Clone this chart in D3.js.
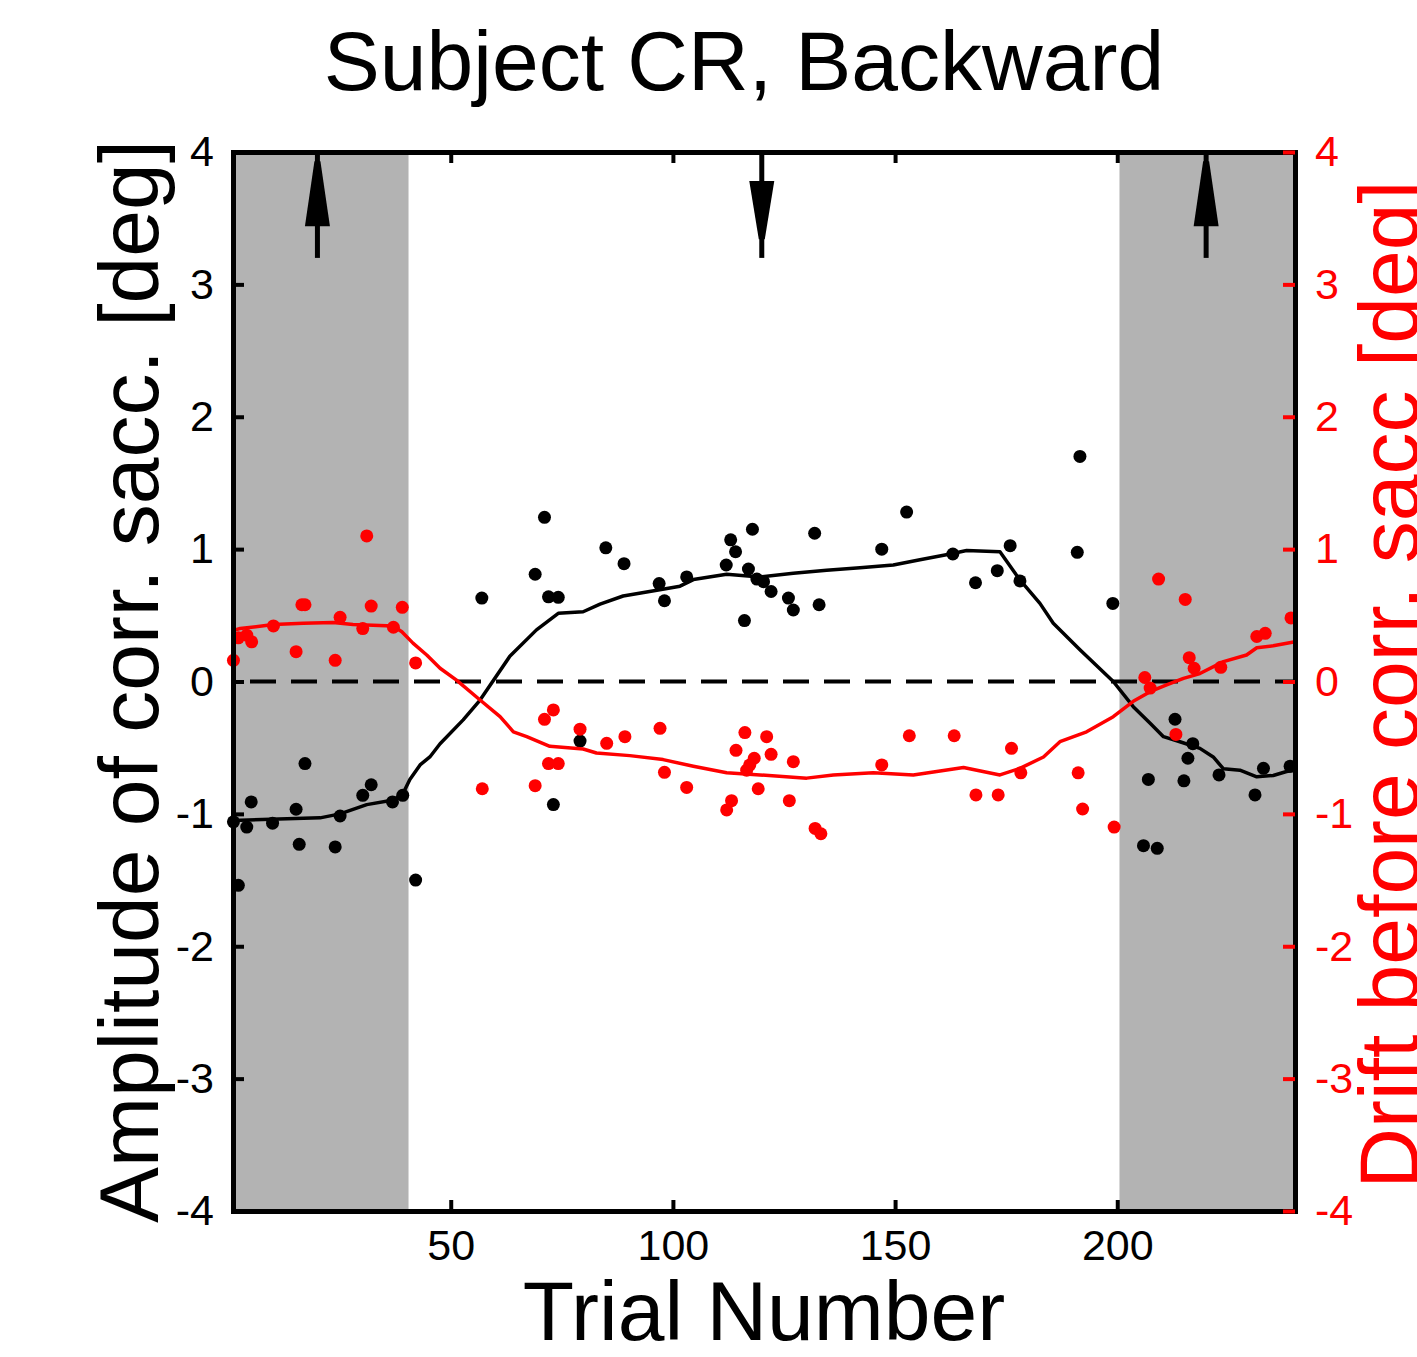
<!DOCTYPE html>
<html>
<head>
<meta charset="utf-8">
<script src="https://cdn.jsdelivr.net/npm/d3@7"></script>
<style>
  body { margin: 0; background: #fff; }
  svg { display: block; font-family: "Liberation Sans", Arial, sans-serif; }
</style>
</head>
<body>
<svg id="chart" width="1417" height="1357"></svg>
<script>
'use strict';

// trial ticks and y ticks (both y axes share the same range)
const trialTicks = [50, 100, 150, 200];
const yTicks = [-4, -3, -2, -1, 0, 1, 2, 3, 4];

// shaded (gray) blocks of trials
const shadedBlocks = [[1, 40.5], [200.5, 240]];

// arrows marking the blocks
const arrowTrials = [20, 120, 220];
const arrowDirs = ['up', 'down', 'up'];

// amplitude of corrective saccade (black dots)
const ampTrials = [1.1, 2.2, 4.1, 5.1, 9.9, 15.2, 15.9, 17.2, 24, 25.1, 30.2, 32.1, 36.9, 39.2, 42.1,
  57, 69, 71.1, 72, 73.1, 74.2, 79.1, 84.9, 89, 96.9, 98.1, 103.1, 112, 113, 114.1, 116.1, 117, 117.9,
  118.9, 120.4, 122.1, 126, 127.1, 131.9, 132.9, 147, 152.6, 163, 168.1, 173, 175.9, 178.1, 191, 191.6,
  199, 205.9, 207, 209, 213, 215, 215.9, 217, 222.9, 231, 232.9, 238.9];
const ampValues = [-1.06, -1.54, -1.10, -0.91, -1.07, -0.965, -1.23, -0.62, -1.25, -1.016, -0.86, -0.78, -0.91, -0.86, -1.50,
  0.63, 0.81, 1.24, 0.64, -0.93, 0.636, -0.45, 1.01, 0.89, 0.74, 0.61, 0.79, 0.88, 1.07, 0.98, 0.46, 0.85, 1.15,
  0.774, 0.754, 0.68, 0.63, 0.54, 1.12, 0.58, 1.0, 1.28, 0.963, 0.746, 0.837, 1.026, 0.76, 0.976, 1.70,
  0.59, -1.24, -0.74, -1.26, -0.285, -0.75, -0.58, -0.47, -0.706, -0.857, -0.656, -0.64];

// running average of the amplitude (black line)
const ampFitTrials = [1, 20.6, 25.1, 31.1, 37.1, 39.2, 40.8, 43.1, 45.3, 47.6, 52.8, 56.6, 63.3, 69.3, 74.2,
  79.8, 83.6, 88.8, 96.4, 101.6, 104.6, 112.1, 119.6, 127.1, 134.6, 142.1, 149.6, 155.6, 162.4, 166.1,
  173.6, 178.1, 182.6, 185.6, 191.6, 199.1, 203.6, 207.4, 210.4, 214.1, 218.6, 221.6, 223.9, 227.6,
  231.4, 235.1, 238.1, 240];
const ampFitValues = [-1.05, -1.03, -1.0, -0.93, -0.895, -0.85, -0.74, -0.63, -0.57, -0.47, -0.29, -0.14, 0.19, 0.39, 0.515,
  0.527, 0.585, 0.646, 0.69, 0.72, 0.77, 0.81, 0.79, 0.817, 0.84, 0.86, 0.88, 0.92, 0.963, 0.99,
  0.98, 0.767, 0.59, 0.44, 0.24, 0.0, -0.19, -0.316, -0.417, -0.455, -0.505, -0.57, -0.66, -0.67,
  -0.72, -0.71, -0.68, -0.67];

// drift before corrective saccade (red dots)
const driftTrials = [1.1, 2.2, 4.1, 5.2, 10.1, 15.2, 16.5, 17.2, 24, 25.1, 30.2, 31.1, 32.1, 37.1, 39.1, 42.1,
  57.1, 69, 71.1, 72, 73.1, 74.2, 79.1, 85.1, 89.2, 97.1, 98.1, 103.1, 112.1, 113.2, 114.2, 116.2, 116.6,
  117.3, 118.3, 119.2, 121.1, 122.1, 126.2, 127.1, 132, 133.3, 147, 153.2, 163.3, 168.2, 173.2, 176.2,
  178.3, 191.2, 192.2, 199.3, 206.2, 207.4, 209.3, 213.2, 215.3, 216.2, 217.3, 223.3, 231.4, 233.3, 239.1];
const driftValues = [0.16, 0.33, 0.35, 0.30, 0.42, 0.225, 0.58, 0.58, 0.16, 0.485, 0.40, 1.10, 0.57, 0.41, 0.56, 0.14,
  -0.81, -0.787, -0.286, -0.62, -0.215, -0.62, -0.36, -0.467, -0.417, -0.354, -0.686, -0.80, -0.97, -0.90, -0.52, -0.386, -0.67,
  -0.63, -0.58, -0.81, -0.417, -0.55, -0.90, -0.606, -1.11, -1.15, -0.63, -0.41, -0.41, -0.857, -0.857, -0.505,
  -0.69, -0.69, -0.963, -1.10, 0.03, -0.05, 0.774, -0.40, 0.62, 0.18, 0.10, 0.107, 0.34, 0.364, 0.48];

// running average of the drift (red line)
const driftFitTrials = [1.5, 2.6, 10.1, 16.8, 23.5, 28, 37, 39, 41.5, 44.6, 47.6, 51.3, 56.6, 61.1, 64.1, 67.1,
  72.3, 79.8, 82.8, 90.3, 97.8, 104.6, 112.1, 119.6, 130.1, 136.1, 145.1, 154.1, 165.4, 173.6, 178.1,
  183.4, 187.1, 193.1, 199.1, 203.6, 207.4, 211.1, 214.9, 218.6, 223.9, 229.1, 231.4, 235.1, 240];
const driftFitValues = [0.39, 0.40, 0.43, 0.44, 0.445, 0.43, 0.42, 0.376, 0.29, 0.2, 0.1, 0.01, -0.14, -0.266, -0.38, -0.417,
  -0.49, -0.51, -0.54, -0.56, -0.59, -0.64, -0.69, -0.706, -0.73, -0.706, -0.69, -0.706, -0.65, -0.706, -0.656,
  -0.57, -0.455, -0.38, -0.266, -0.15, -0.077, -0.026, 0.024, 0.06, 0.15, 0.2, 0.255, 0.27, 0.30];

const width = 1417;
const height = 1357;
const margin = { top: 152, right: 122, bottom: 146, left: 233 };
const red = '#ff0000';
const gray = '#b3b3b3';

const svg = d3.select('#chart');

const x = d3.scaleLinear().domain([1, 240]).range([margin.left, width - margin.right]);
const yLeft = d3.scaleLinear().domain([-4, 4]).range([height - margin.bottom, margin.top]);
const yRight = d3.scaleLinear().domain([-4, 4]).range([height - margin.bottom, margin.top]);

const x0 = x.range()[0];
const x1 = x.range()[1];
const yTop = yLeft.range()[1];
const yBottom = yLeft.range()[0];

//Shaded blocks
svg
  .selectAll('.block')
  .data(shadedBlocks)
  .enter()
  .append('rect')
  .attr('x', d => x(d[0]))
  .attr('y', yTop)
  .attr('width', d => x(d[1]) - x(d[0]))
  .attr('height', yBottom - yTop)
  .style('fill', gray);

//Zero line
svg
  .append('line')
  .attr('x1', x0)
  .attr('x2', x1)
  .attr('y1', yLeft(0))
  .attr('y2', yLeft(0))
  .attr('stroke', '#000')
  .attr('stroke-width', 4)
  .attr('stroke-dasharray', '26 15')
  .attr('stroke-dashoffset', 24);

//Arrows: shaft from the top axis down to 3.2, head near the top (up) or near the shaft end (down)
const arrows = arrowTrials.map((t, i) => ({ t: t, dir: arrowDirs[i] }));
const arrowG = svg.selectAll('.arrow').data(arrows).enter().append('g');
arrowG
  .append('line')
  .attr('x1', d => x(d.t))
  .attr('x2', d => x(d.t))
  .attr('y1', yLeft(4))
  .attr('y2', yLeft(3.2))
  .attr('stroke', '#000')
  .attr('stroke-width', 5);
arrowG
  .append('path')
  .attr('d', d => {
    const cx = x(d.t);
    const tip = d.dir === 'up' ? yLeft(3.93) : yLeft(3.34);
    const base = d.dir === 'up' ? yLeft(3.44) : yLeft(3.78);
    return 'M' + (cx - 3) + ',' + tip + 'L' + (cx + 3) + ',' + tip +
      'L' + (cx + 12.5) + ',' + base + 'L' + (cx - 12.5) + ',' + base + 'Z';
  })
  .style('fill', '#000');

//Black series
svg
  .append('g')
  .selectAll('circle')
  .data(ampTrials.map((t, i) => [t, ampValues[i]]))
  .enter()
  .append('circle')
  .attr('cx', d => x(d[0]))
  .attr('cy', d => yLeft(d[1]))
  .attr('r', 6.5)
  .style('fill', '#000');

const line = scale =>
  d3
    .line()
    .x(d => x(d[0]))
    .y(d => scale(d[1]));

svg
  .append('path')
  .datum(ampFitTrials.map((t, i) => [t, ampFitValues[i]]))
  .attr('d', line(yLeft))
  .attr('fill', 'none')
  .attr('stroke', '#000')
  .attr('stroke-width', 3.5)
  .attr('stroke-linejoin', 'round');

//Red series
svg
  .append('g')
  .selectAll('circle')
  .data(driftTrials.map((t, i) => [t, driftValues[i]]))
  .enter()
  .append('circle')
  .attr('cx', d => x(d[0]))
  .attr('cy', d => yRight(d[1]))
  .attr('r', 6.5)
  .style('fill', red);

svg
  .append('path')
  .datum(driftFitTrials.map((t, i) => [t, driftFitValues[i]]))
  .attr('d', line(yRight))
  .attr('fill', 'none')
  .attr('stroke', red)
  .attr('stroke-width', 3.5)
  .attr('stroke-linejoin', 'round');

//Axes (plain hyphen for negative labels, as in the original)
const tickFont = 43;
const fmt = d => String(d);

const bottomAxis = svg
  .append('g')
  .attr('transform', 'translate(0,' + yBottom + ')')
  .call(d3.axisBottom(x).tickValues(trialTicks).tickFormat(fmt).tickSize(-11).tickPadding(18).tickSizeOuter(0));
const topAxis = svg
  .append('g')
  .attr('transform', 'translate(0,' + yTop + ')')
  .call(d3.axisTop(x).tickValues(trialTicks).tickSize(-11).tickFormat('').tickSizeOuter(0));
const leftAxis = svg
  .append('g')
  .attr('transform', 'translate(' + x0 + ',0)')
  .call(d3.axisLeft(yLeft).tickValues(yTicks).tickFormat(fmt).tickSize(-11).tickPadding(19).tickSizeOuter(0));
const rightAxis = svg
  .append('g')
  .attr('transform', 'translate(' + x1 + ',0)')
  .call(d3.axisRight(yRight).tickValues(yTicks).tickFormat(fmt).tickSize(-12).tickPadding(20).tickSizeOuter(0));

[bottomAxis, topAxis, leftAxis, rightAxis].forEach(a => {
  a.select('.domain').attr('stroke', '#000').attr('stroke-width', 5).attr('stroke-linecap', 'square');
  a.selectAll('.tick line').attr('stroke', '#000').attr('stroke-width', 4);
  a.selectAll('.tick text').attr('fill', '#000').style('font-size', tickFont + 'px').style('font-family', '"Liberation Sans", Arial, sans-serif');
});
rightAxis.selectAll('.tick line').attr('stroke', red);
rightAxis.selectAll('.tick text').attr('fill', red);

//Titles
svg
  .append('text')
  .attr('x', 744)
  .attr('y', 90)
  .attr('text-anchor', 'middle')
  .style('font-size', '84px')
  .text('Subject CR, Backward');

svg
  .append('text')
  .attr('x', (x0 + x1) / 2)
  .attr('y', 1340)
  .attr('text-anchor', 'middle')
  .style('font-size', '84px')
  .text('Trial Number');

svg
  .append('text')
  .attr('transform', 'translate(158,' + (yTop + yBottom) / 2 + ') rotate(-90)')
  .attr('text-anchor', 'middle')
  .style('font-size', '84px')
  .text('Amplitude of corr. sacc. [deg]');

svg
  .append('text')
  .attr('transform', 'translate(1418,' + ((yTop + yBottom) / 2 + 3) + ') rotate(-90)')
  .attr('text-anchor', 'middle')
  .style('font-size', '84px')
  .style('fill', red)
  .text('Drift before corr. sacc [deg]');
</script>
</body>
</html>
